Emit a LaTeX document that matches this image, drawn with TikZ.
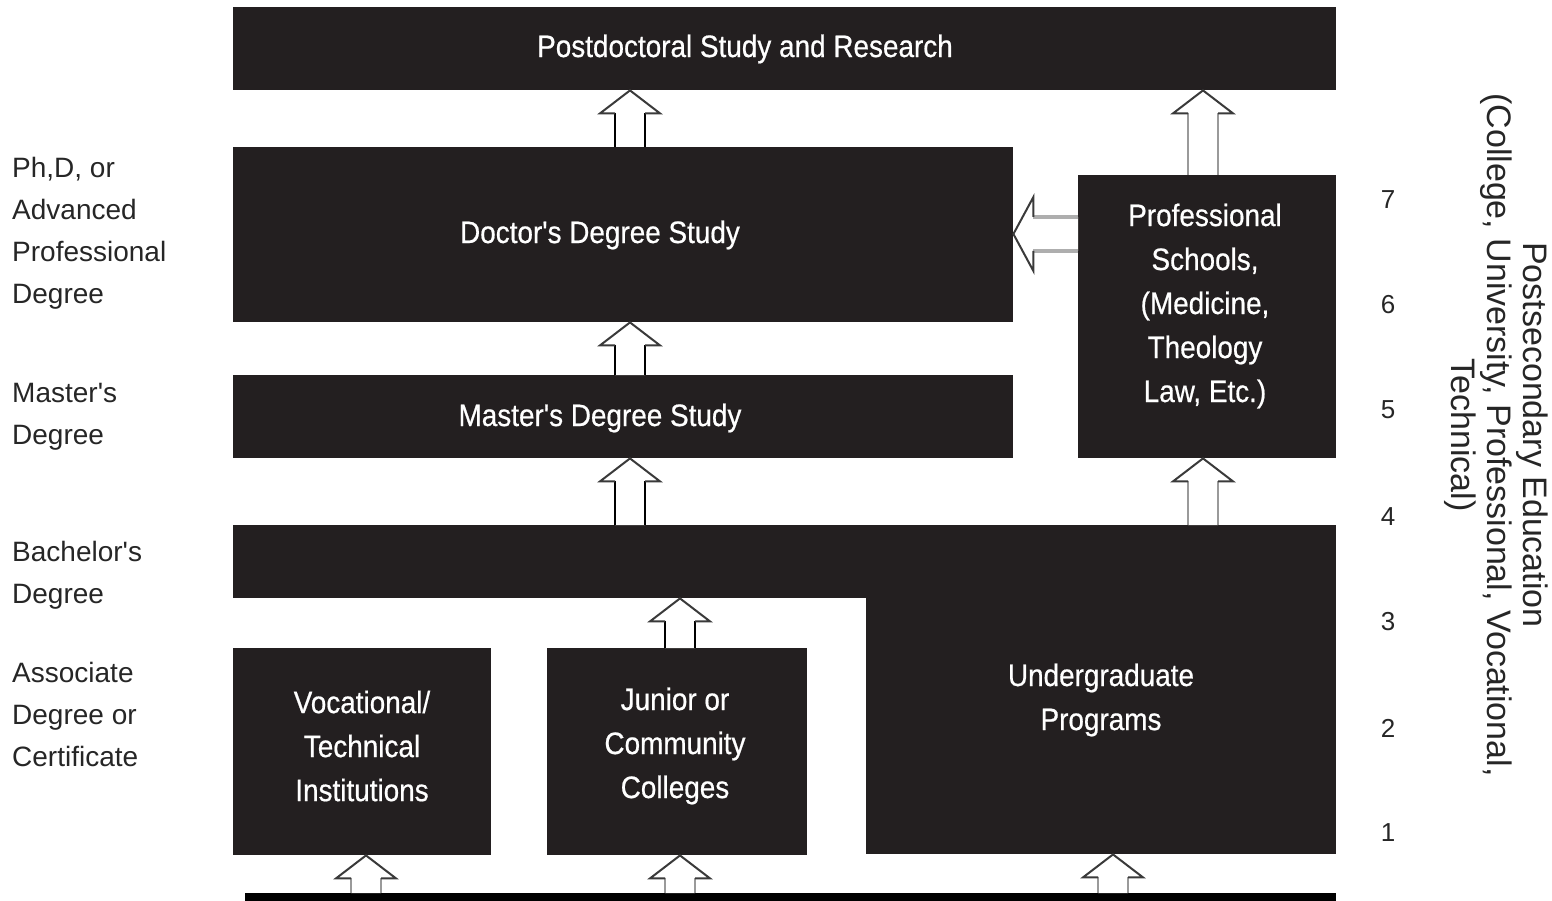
\documentclass[tikz,border=0pt]{standalone}
\usepackage{fontspec}
\setmainfont{Liberation Sans}
\newfontfamily\boxfont[FakeStretch=0.9,FakeBold=0.6]{Liberation Sans}
\newfontfamily\labelfont{Liberation Sans}
\usetikzlibrary{calc}
\definecolor{boxblack}{HTML}{231F20}
\definecolor{headgray}{HTML}{3A3A3A}
\definecolor{shaftgray}{HTML}{9A9A9A}
\definecolor{lightshaft}{HTML}{AEAEAE}
\newcommand\vblock[5]{%
  \fill[white] let \p1=(#2), \p2=(#3) in
    (#1pt-15pt,\y1) -- (#1pt-15pt,\y2-23pt) -- (#1pt-30pt,\y2-23pt) -- (#1pt,\y2)
    -- (#1pt+30pt,\y2-23pt) -- (#1pt+15pt,\y2-23pt) -- (#1pt+15pt,\y1) -- cycle;
  \draw[#4, line width=2.2pt] let \p1=(#2), \p2=(#3) in
    (#1pt-15pt,\y1) -- (#1pt-15pt,\y2-23pt) (#1pt+15pt,\y1) -- (#1pt+15pt,\y2-23pt);
  \draw[#5, line width=2pt] let \p1=(#2), \p2=(#3) in
    (#1pt-15pt,\y2-23pt) -- (#1pt-30pt,\y2-23pt) -- (#1pt,\y2)
    -- (#1pt+30pt,\y2-23pt) -- (#1pt+15pt,\y2-23pt);
}
\newcommand\hblock[5]{%
  \fill[white] let \p1=(#2), \p2=(#3) in
    (\x1,-#1pt+17pt) -- (\x2+20pt,-#1pt+17pt) -- (\x2+20pt,-#1pt+37pt) -- (\x2,-#1pt)
    -- (\x2+20pt,-#1pt-37pt) -- (\x2+20pt,-#1pt-17pt) -- (\x1,-#1pt-17pt) -- cycle;
  \draw[#4, line width=4pt] let \p1=(#2), \p2=(#3) in
    (\x1,-#1pt+17pt) -- (\x2+20pt,-#1pt+17pt) (\x1,-#1pt-17pt) -- (\x2+20pt,-#1pt-17pt);
  \draw[#5, line width=2pt] let \p1=(#2), \p2=(#3) in
    (\x2+20pt,-#1pt+17pt) -- (\x2+20pt,-#1pt+37pt) -- (\x2,-#1pt)
    -- (\x2+20pt,-#1pt-37pt) -- (\x2+20pt,-#1pt-17pt);
}
\begin{document}
\begin{tikzpicture}[x=1pt,y=-1pt,
  box/.style={fill=boxblack, draw=none, inner sep=0pt, anchor=north west},
  boxtext/.style={text=white, inner sep=0pt, align=center, font=\boxfont\fontsize{31}{44}\selectfont},
  sidelabel/.style={inner sep=0pt, align=left, anchor=west, text=black!85, font=\labelfont\fontsize{28}{42}\selectfont},
  levelnum/.style={inner sep=0pt, text=black!85, font=\fontsize{26}{30}\selectfont}]
\useasboundingbox (0,0) rectangle (1552,901);
% boxes
\node[box, minimum width=1103pt, minimum height=83pt] (post) at (233,7) {};
\node[box, minimum width=780pt, minimum height=175pt] (doc) at (233,147) {};
\node[box, minimum width=780pt, minimum height=83pt] (mast) at (233,375) {};
\node[box, minimum width=258pt, minimum height=283pt] (prof) at (1078,175) {};
\node[box, minimum width=1103pt, minimum height=73pt] (bach) at (233,525) {};
\node[box, minimum width=470pt, minimum height=257pt] (under) at (866,597) {};
\node[box, minimum width=258pt, minimum height=207pt] (voc) at (233,648) {};
\node[box, minimum width=260pt, minimum height=207pt] (jun) at (547,648) {};
\node[box, fill=black, minimum width=1091pt, minimum height=8pt] (base) at (245,893) {};
% box texts
\node[boxtext] (posttext) at (745,49) {Postdoctoral Study and Research};
\node[boxtext] (doctext) at (600,235) {Doctor's Degree Study};
\node[boxtext] (masttext) at (600,418) {Master's Degree Study};
\node[boxtext] (proftext) at (1205,306) {Professional\\Schools,\\(Medicine,\\Theology\\Law, Etc.)};
\node[boxtext] (undertext) at (1101,700) {Undergraduate\\Programs};
\node[boxtext] (voctext) at (362,746) {Vocational/\\Technical\\Institutions};
\node[boxtext] (juntext) at (675,746) {Junior or\\Community\\Colleges};
% arrows
\vblock{630}{doc.north}{post.south}{black}{headgray}
\vblock{630}{mast.north}{doc.south}{black}{headgray}
\vblock{630}{bach.north}{mast.south}{black}{headgray}
\vblock{1203}{prof.north}{post.south}{shaftgray}{headgray}
\vblock{1203}{bach.north}{prof.south}{shaftgray}{headgray}
\vblock{680}{jun.north}{bach.south}{black}{headgray}
\vblock{366}{base.north}{voc.south}{shaftgray}{headgray}
\vblock{680}{base.north}{jun.south}{shaftgray}{headgray}
\vblock{1113}{base.north}{under.south}{shaftgray}{headgray}
\hblock{234}{prof.west}{doc.east}{lightshaft}{headgray}
% side labels
\node[sidelabel] (lphd) at (12,233) {Ph,D, or\\Advanced\\Professional\\Degree};
\node[sidelabel] (lmast) at (12,417) {Master's\\Degree};
\node[sidelabel] (lbach) at (12,575) {Bachelor's\\Degree};
\node[sidelabel] (lassoc) at (12,714) {Associate\\Degree or\\Certificate};
% level numbers
\node[levelnum] (n7) at (1388,200) {7};
\node[levelnum] (n6) at (1388,305) {6};
\node[levelnum] (n5) at (1388,410) {5};
\node[levelnum] (n4) at (1388,517) {4};
\node[levelnum] (n3) at (1388,622) {3};
\node[levelnum] (n2) at (1388,728) {2};
\node[levelnum] (n1) at (1388,833) {1};
% rotated caption
\node[rotate=-90, inner sep=0pt, align=center, text=black!85, font=\fontsize{34}{36}\selectfont] (cap) at (1496,435)
  {Postsecondary Education\\(College, University, Professional, Vocational,\\Technical)};
\end{tikzpicture}
\end{document}
